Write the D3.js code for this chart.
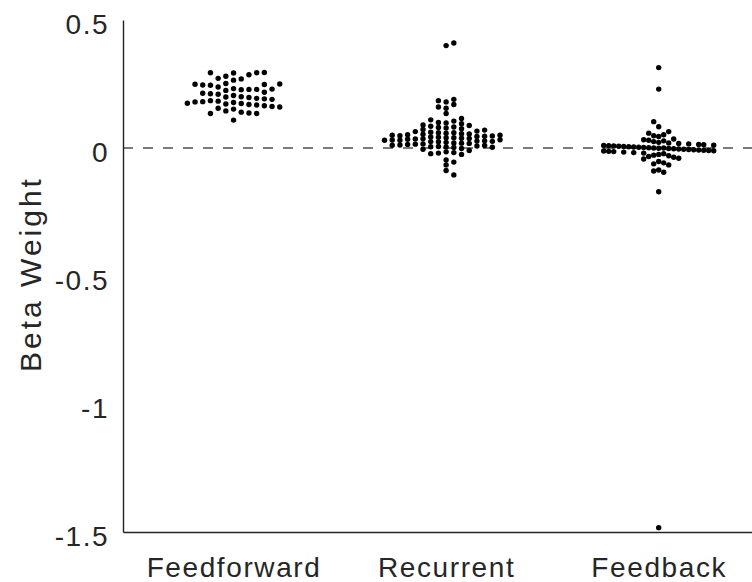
<!DOCTYPE html>
<html>
<head>
<meta charset="utf-8">
<script src="https://cdn.jsdelivr.net/npm/d3@7"></script>
<style>
  html, body { margin: 0; padding: 0; background: #fff; }
  svg { display: block; }
  text { font-family: "Liberation Sans", Arial, Helvetica, sans-serif; fill: #262626; }
</style>
</head>
<body>
<svg id="chart" width="752" height="582"></svg>
<script>
// ---- data ----
const categories = ["Feedforward", "Recurrent", "Feedback"];
const yTicks = [0.5, 0, -0.5, -1, -1.5];
const yTickLabels = ["0.5", "0", "-0.5", "-1", "-1.5"];
const yLabel = "Beta Weight";

const feedforward = [
  0.294, 0.294, 0.293, 0.295, 0.286,
  0.28, 0.272, 0.27, 0.265,
  0.252, 0.25, 0.249, 0.248, 0.246, 0.245,
  0.238, 0.232, 0.23, 0.229, 0.229, 0.228, 0.225,
  0.218, 0.214, 0.212, 0.21, 0.205,
  0.20, 0.199, 0.197, 0.194, 0.192, 0.19,
  0.185, 0.183, 0.181, 0.18, 0.178, 0.175, 0.174, 0.172, 0.17,
  0.168, 0.165, 0.162, 0.16, 0.155, 0.152,
  0.145, 0.14, 0.137, 0.135, 0.135,
  0.109
];

const recurrent = [
  0.41, 0.40,
  0.19, 0.185, 0.18, 0.17, 0.16, 0.155,
  0.135,
  0.115, 0.11, 0.105, 0.10, 0.098, 0.095,
  0.09, 0.088, 0.085, 0.082, 0.08, 0.078, 0.075, 0.072, 0.07,
  0.066, 0.064, 0.062, 0.06, 0.06, 0.058, 0.056, 0.055, 0.054, 0.052, 0.05, 0.05, 0.048, 0.047, 0.046, 0.045,
  0.043, 0.042, 0.04, 0.04, 0.038, 0.037, 0.036, 0.035, 0.034, 0.032, 0.031, 0.03, 0.03, 0.028, 0.027, 0.026, 0.025, 0.024, 0.022, 0.02,
  0.019, 0.018, 0.016, 0.015, 0.014, 0.012, 0.011, 0.01, 0.008, 0.006, 0.005, 0.004, 0.003, 0.002,
  -0.002, -0.005, -0.01,
  -0.015, -0.018, -0.02, -0.022, -0.025,
  -0.047, -0.055, -0.066,
  -0.088, -0.105
];

const feedback = [
  0.314, 0.230, 0.103, 0.083,
  0.064, 0.058, 0.052, 0.048, 0.045,
  0.035, 0.032, 0.03, 0.028, 0.025, 0.022, 0.02, 0.018, 0.016, 0.014, 0.013,
  0.011, 0.01, 0.009, 0.008, 0.007, 0.006, 0.005, 0.004, 0.003, 0.002, 0.001, 0.0, 0.0,
  -0.001, -0.002, -0.003, -0.004, -0.005, -0.006, -0.007, -0.008, -0.009, -0.01, -0.011, -0.012, -0.013, -0.014,
  -0.016, -0.018, -0.02, -0.022, -0.025, -0.028, -0.03, -0.033, -0.036, -0.04,
  -0.043,
  -0.053, -0.058, -0.062, -0.066,
  -0.086, -0.09, -0.095,
  -0.171,
  -1.483
];

const seriesValues = [feedforward, recurrent, feedback];

// ---- layout / style settings (per group swarm spacing, px) ----
const swarmStep = [7.7, 7.7, 5.0];
const swarmGap = [6.6, 4.5, 5.5];

const svg = d3.select("#chart");
const W = 752, H = 582;
const mLeft = 123, mTop = 20, mBottom = 532;

const y = d3.scaleLinear().domain([-1.5, 0.5]).range([mBottom, mTop]);
const x = d3.scaleLinear().domain([0.48, 3.5]).range([mLeft, 765]);

const axisColor = "#222";
const fontSize = 28;

// dashed zero line
svg.append("line")
  .attr("x1", mLeft).attr("x2", W)
  .attr("y1", y(0)).attr("y2", y(0))
  .attr("stroke", "#7a7a7a")
  .attr("stroke-width", 2)
  .attr("stroke-dasharray", "10,10");

// column beeswarm: x offsets on a grid of `step` px; points in the same
// column must be at least `gap` px apart vertically. Points nearest the
// median are placed first.
function swarm(values, step, gap) {
  const pts = values.map((v, i) => ({ v, i, py: y(v), col: 0 }));
  const med = y(d3.median(values));
  const order = pts.slice().sort((a, b) => Math.abs(a.py - med) - Math.abs(b.py - med) || a.py - b.py);
  const cols = new Map();
  let flip = 1;
  order.forEach(p => {
    for (let k = 0; k < 400; k++) {
      const c = k === 0 ? 0 : (k % 2 === 1 ? flip * Math.ceil(k / 2) : -flip * Math.ceil(k / 2));
      const list = cols.get(c) || [];
      if (list.every(q => Math.abs(q - p.py) >= gap)) {
        list.push(p.py);
        cols.set(c, list);
        p.col = c;
        if (c !== 0) flip = -flip;
        break;
      }
    }
  });
  return pts.map(p => ({ v: p.v, py: p.py, px: p.col * step }));
}

seriesValues.forEach((vals, k) => {
  const pts = swarm(vals, swarmStep[k], swarmGap[k]);
  svg.append("g")
    .selectAll("circle")
    .data(pts)
    .join("circle")
    .attr("cx", p => x(k + 1) + p.px)
    .attr("cy", p => p.py)
    .attr("r", 2.7)
    .attr("fill", "#000");
});

// y axis
const yAxis = d3.axisLeft(y)
  .tickValues(yTicks)
  .tickFormat((d, i) => yTickLabels[i])
  .tickSize(0)
  .tickPadding(14);
const gy = svg.append("g").attr("transform", `translate(${mLeft},0)`).call(yAxis);
gy.select(".domain").attr("stroke", axisColor).attr("stroke-width", 1.4);
gy.selectAll("text")
  .attr("dy", "0.47em")
  .style("font-size", fontSize + "px")
  .style("letter-spacing", "1.5px")
  .style("font-family", '"Liberation Sans", Arial, sans-serif')
  .attr("fill", axisColor);

// x axis
const xAxis = d3.axisBottom(x)
  .tickValues([1, 2, 3])
  .tickFormat((d, i) => categories[i])
  .tickSize(0)
  .tickPadding(25);
const gx = svg.append("g").attr("transform", `translate(0,${mBottom})`).call(xAxis);
gx.select(".domain").attr("stroke", axisColor).attr("stroke-width", 1.4);
gx.selectAll("text")
  .style("font-size", fontSize + "px")
  .style("letter-spacing", "1.6px")
  .style("font-family", '"Liberation Sans", Arial, sans-serif')
  .attr("fill", axisColor);

// y label
svg.append("text")
  .attr("transform", `translate(41,${274}) rotate(-90)`)
  .attr("text-anchor", "middle")
  .style("font-size", "30px")
  .style("letter-spacing", "3px")
  .attr("fill", axisColor)
  .text(yLabel);
</script>
</body>
</html>
